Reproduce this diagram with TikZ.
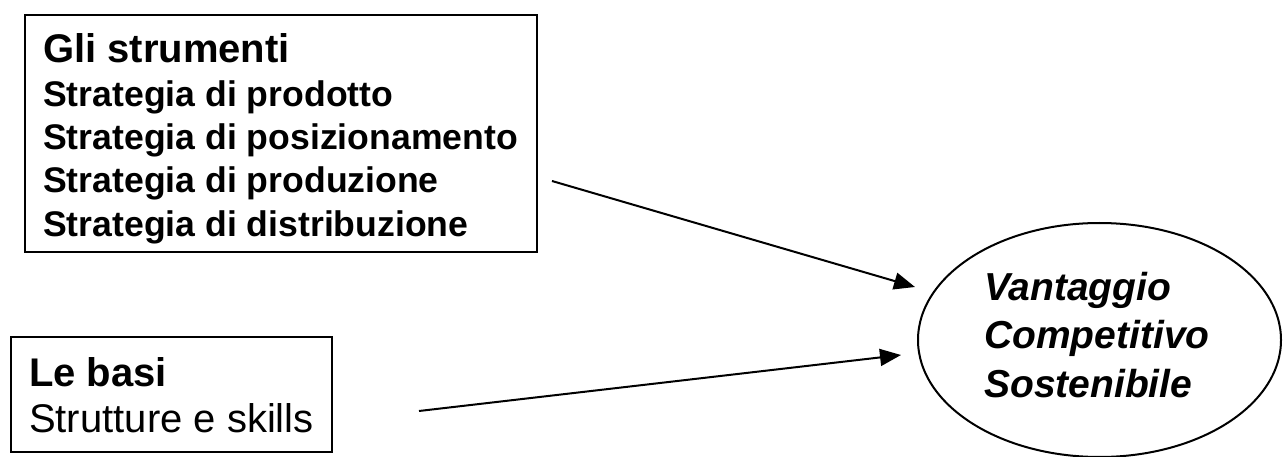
\documentclass[tikz,border=0pt]{standalone}
\usepackage{fontspec}
\setmainfont{Liberation Sans}
\usetikzlibrary{arrows.meta,shapes.geometric}
\begin{document}
\begin{tikzpicture}[x=1pt,y=-1pt,
  frame/.style={draw, line width=2pt, rectangle, inner sep=0pt},
  oval/.style={draw, line width=2pt, ellipse, inner sep=0pt},
  conn/.style={line width=2pt, -{Triangle[length=21pt,width=17pt]}},
  txt/.style={inner sep=0pt, anchor=base west}]
\useasboundingbox (0,0) rectangle (1283,457);
% box 1
\node[frame, minimum width=512pt, minimum height=237pt] (box1) at (281,133.5) {};
\node[txt] (t1) at (43,63) {\fontsize{35.6}{43.3}\selectfont\bfseries
  \begin{tabular}[t]{@{}l@{}}
  {\fontsize{40}{44}\selectfont Gli strumenti}\\
  Strategia di prodotto\\
  Strategia di posizionamento\\
  Strategia di produzione\\
  Strategia di distribuzione
  \end{tabular}};
% box 2
\node[frame, minimum width=321pt, minimum height=115pt] (box2) at (171.5,394.5) {};
\node[txt] (t2) at (29,386) {\fontsize{40}{46}\selectfont
  \begin{tabular}[t]{@{}l@{}}
  \textbf{Le basi}\\
  Strutture e skills
  \end{tabular}};
% ellipse
\node[oval, minimum width=363pt, minimum height=234pt] (goal) at (1099.5,340) {};
\node[txt] (t3) at (984,300) {\fontsize{39}{48.5}\selectfont\bfseries\itshape
  \begin{tabular}[t]{@{}l@{}}
  Vantaggio\\
  Competitivo\\
  Sostenibile
  \end{tabular}};
% connectors
\coordinate (a1s) at (552,181);
\coordinate (a1e) at (915,287);
\coordinate (a2s) at (419,411);
\coordinate (a2e) at (901,355);
\draw[conn] (a1s) -- (a1e);
\draw[conn] (a2s) -- (a2e);
\end{tikzpicture}
\end{document}
